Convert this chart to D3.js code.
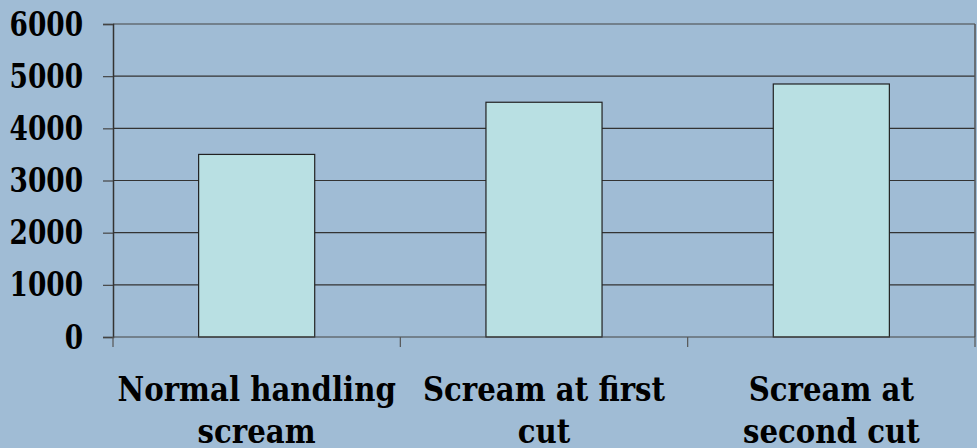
<!DOCTYPE html>
<html>
<head>
<meta charset="utf-8">
<script src="https://cdn.jsdelivr.net/npm/d3@7"></script>
<style>
  body { margin: 0; background: #a0bcd5; }
  svg { display: block; }
</style>
</head>
<body>
<div id="chart"></div>
<script>
var categories = [["Normal handling", "scream"], ["Scream at first", "cut"], ["Scream at", "second cut"]];
var values = [3500, 4500, 4850];
var yTicks = [0, 1000, 2000, 3000, 4000, 5000, 6000];

var W = 977, H = 448;
var margin = {top: 24, right: 2, bottom: 111, left: 113};
var width = W - margin.left - margin.right,
    height = H - margin.top - margin.bottom;
var serif = "'DejaVu Serif', serif";

var svg = d3.select("#chart").append("svg")
    .attr("width", W)
    .attr("height", H);

svg.append("rect").attr("width", W).attr("height", H).attr("fill", "#a0bcd5");

var g = svg.append("g")
    .attr("transform", "translate(" + margin.left + "," + margin.top + ")");

var x = d3.scaleBand()
    .domain(d3.range(categories.length))
    .range([0, width]);

var y = d3.scaleLinear()
    .domain([0, 6000])
    .range([height, 0]);

// gridlines
g.selectAll(".grid")
    .data(yTicks.slice(1))
  .enter().append("line")
    .attr("x1", 0).attr("x2", width)
    .attr("y1", function(d) { return y(d); })
    .attr("y2", function(d) { return y(d); })
    .attr("stroke", function(d) { return d === 6000 ? "#444" : "#333"; })
    .attr("stroke-width", 1.2);

// right border
g.append("line")
    .attr("x1", width).attr("x2", width)
    .attr("y1", 0).attr("y2", height)
    .attr("stroke", "#555").attr("stroke-width", 1.5);

// bars
var barW = x.bandwidth() * 0.404;
g.selectAll(".bar")
    .data(values)
  .enter().append("rect")
    .attr("class", "bar")
    .attr("x", function(d, i) { return x(i) + (x.bandwidth() - barW) / 2; })
    .attr("y", function(d) { return y(d); })
    .attr("width", barW)
    .attr("height", function(d) { return height - y(d); })
    .attr("fill", "#b9e0e3")
    .attr("stroke", "#222")
    .attr("stroke-width", 1.2);

// y axis
var yAxis = d3.axisLeft(y).tickValues(yTicks).tickSize(10).tickFormat("");
var ya = g.append("g").call(yAxis);
ya.select(".domain").attr("stroke", "#333").attr("stroke-width", 1.5);
ya.selectAll(".tick line").attr("stroke", "#444").attr("stroke-width", 1.2);

// DejaVu Serif is wider than the Times face of the original, so squeeze it
g.selectAll(".ylab")
    .data(yTicks)
  .enter().append("text")
    .attr("transform", function(d) { return "translate(-30," + y(d) + ") scale(0.8,1)"; })
    .attr("dy", "0.35em")
    .attr("text-anchor", "end")
    .style("font-family", serif)
    .style("font-weight", "bold")
    .style("font-size", "33px")
    .text(function(d) { return d; });

// x axis
var xEdges = d3.range(categories.length + 1).map(function(i) { return i * x.step(); });
g.append("line")
    .attr("x1", 0).attr("x2", width)
    .attr("y1", height).attr("y2", height)
    .attr("stroke", "#444").attr("stroke-width", 1.2);
g.selectAll(".xtick")
    .data(xEdges)
  .enter().append("line")
    .attr("x1", function(d) { return d; }).attr("x2", function(d) { return d; })
    .attr("y1", height).attr("y2", height + 10)
    .attr("stroke", "#555").attr("stroke-width", 1.2);

var xl = g.selectAll(".xlab")
    .data(categories)
  .enter().append("text")
    .attr("text-anchor", "middle")
    .attr("transform", function(d, i) { return "translate(" + (x(i) + x.bandwidth() / 2) + "," + (height + 64) + ") scale(0.86,1)"; })
    .style("font-family", serif)
    .style("font-weight", "bold")
    .style("font-size", "34px");
xl.selectAll("tspan")
    .data(function(d) { return d; })
  .enter().append("tspan")
    .attr("x", 0)
    .attr("dy", function(d, i) { return i === 0 ? 0 : 42; })
    .text(function(d) { return d; });
</script>
</body>
</html>
